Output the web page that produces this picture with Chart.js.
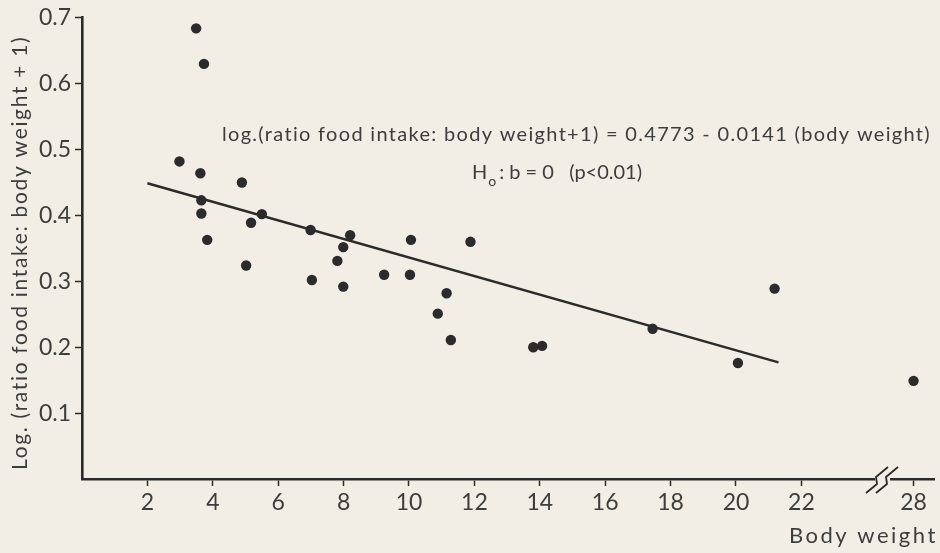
<!DOCTYPE html>
<html>
<head>
<meta charset="utf-8">
<script src="https://cdn.jsdelivr.net/npm/chart.js@4.4.1/dist/chart.umd.min.js"></script>
<style>
  html, body { margin: 0; padding: 0; background: #f2eee5; }
  #wrap { width: 940px; height: 553px; position: relative; }
</style>
</head>
<body>
<div id="wrap"><canvas id="intake-chart"></canvas></div>
<script>
// body weight (g) and log(ratio food intake : body weight + 1)
const bodyWeight = [3.49, 3.73, 2.98, 3.62, 4.89, 3.65, 3.65, 3.83, 5.50, 5.17,
                    5.02, 6.99, 7.03, 8.20, 7.99, 7.81, 7.99, 9.24, 10.03, 10.06,
                    11.88, 11.15, 10.88, 11.28, 13.80, 14.07, 17.45, 20.06, 21.18, 28];
const logRatio = [0.684, 0.630, 0.482, 0.464, 0.450, 0.423, 0.403, 0.363, 0.402, 0.389,
                  0.324, 0.378, 0.302, 0.370, 0.352, 0.331, 0.292, 0.310, 0.310, 0.363,
                  0.360, 0.282, 0.251, 0.211, 0.200, 0.202, 0.228, 0.176, 0.289, 0.149];

// fitted line ends
const fitX = [2, 21.3];
const fitY = [0.449, 0.177];

const xTickLabels = [2, 4, 6, 8, 10, 12, 14, 16, 18, 20, 22, 28];
const yTickLabels = [0.1, 0.2, 0.3, 0.4, 0.5, 0.6, 0.7];

const equationText = 'log.(ratio food intake: body weight+1) = 0.4773 - 0.0141 (body weight)';
const yTitle = 'Log. (ratio food intake: body weight + 1)';
const xTitle = 'Body weight';

const INK = '#2b2b2b';
const TEXT = '#3d3d3d';
const BG = '#f2eee5';
const FONT = 'Lato, "DejaVu Sans", sans-serif';

// axis is broken between 22 and 28
const BREAK_AT = 24;
const BREAK_SHIFT = 2.57;
function mapX(v) { return v > BREAK_AT ? v - BREAK_SHIFT : v; }

const points = bodyWeight.map((w, i) => ({ x: mapX(w), y: logRatio[i] }));
const fitLine = fitX.map((w, i) => ({ x: mapX(w), y: fitY[i] }));

// stretch text to a given width
function fitText(ctx, text, x, y, width, font) {
    ctx.font = font;
    ctx.letterSpacing = '0px';
    const w = ctx.measureText(text).width;
    ctx.letterSpacing = ((width - w) / (text.length - 1)) + 'px';
    ctx.fillText(text, x, y);
    ctx.letterSpacing = '0px';
}

const textPlugin = {
    id: 'texts',
    afterDraw(chart) {
        const ctx = chart.ctx;
        ctx.save();
        ctx.fillStyle = TEXT;
        ctx.textAlign = 'left';
        ctx.textBaseline = 'middle';

        fitText(ctx, equationText, 222, 135, 708, '20px ' + FONT);

        // H0 : b = 0  (p<0.01)
        ctx.font = '20px ' + FONT;
        ctx.fillText('H', 472, 173);
        let hx = 472 + ctx.measureText('H').width + 1;
        ctx.font = '14px ' + FONT;
        ctx.fillText('o', hx, 181);
        hx += ctx.measureText('o').width + 3;
        fitText(ctx, ': b = 0   (p<0.01)', hx, 173, 642 - hx, '20px ' + FONT);

        // x title
        ctx.font = '22px ' + FONT;
        ctx.letterSpacing = '2.5px';
        ctx.fillText(xTitle, 789, 536);
        ctx.letterSpacing = '0px';

        // y title
        ctx.translate(20, 253);
        ctx.rotate(-Math.PI / 2);
        fitText(ctx, yTitle, -217, 0, 433, '21px ' + FONT);
        ctx.restore();

        // break mark on the x axis
        const bx = 883, by = chart.chartArea.bottom;
        ctx.save();
        ctx.fillStyle = BG;
        ctx.fillRect(bx - 8, by - 3, 15, 6);
        ctx.strokeStyle = INK;
        ctx.lineWidth = 1.8;
        ctx.lineJoin = 'round';
        [-5, 5].forEach(dx => {
            ctx.beginPath();
            ctx.moveTo(bx + dx - 12, by + 14);
            ctx.lineTo(bx + dx - 1, by + 5);
            ctx.lineTo(bx + dx - 2, by - 2);
            ctx.lineTo(bx + dx + 10, by - 12);
            ctx.stroke();
        });
        ctx.restore();
    }
};

const ctx = document.getElementById('intake-chart').getContext('2d');
const intakeChart = new Chart(ctx, {
    type: 'scatter',
    data: {
        datasets: [{
            label: 'Shrews',
            data: points,
            pointRadius: 5.2,
            pointHoverRadius: 5.2,
            backgroundColor: INK,
            borderColor: INK,
            borderWidth: 0
        },
        {
            label: 'Regression',
            type: 'line',
            data: fitLine,
            showLine: true,
            borderColor: INK,
            borderWidth: 2.5,
            pointRadius: 0,
            fill: false
        }]
    },
    options: {
        responsive: true,
        maintainAspectRatio: false,
        animation: false,
        layout: {
            padding: { top: 14, right: 0, left: 0, bottom: 0 }
        },
        scales: {
            x: {
                type: 'linear',
                min: 0,
                max: 26.08,
                afterFit: s => { s.height = 74; },
                afterBuildTicks: s => { s.ticks = xTickLabels.map(v => ({ value: mapX(v) })); },
                ticks: {
                    autoSkip: false,
                    maxRotation: 0,
                    padding: 3,
                    color: TEXT,
                    font: { family: FONT, size: 23 },
                    callback: (value, index) => xTickLabels[index]
                },
                grid: {
                    drawOnChartArea: false,
                    drawTicks: true,
                    tickLength: 7,
                    tickColor: INK,
                    tickWidth: 1.5
                },
                border: { color: INK, width: 2.6 }
            },
            y: {
                min: 0,
                max: 0.7,
                afterFit: s => { s.width = 82; },
                afterBuildTicks: s => { s.ticks = yTickLabels.map(v => ({ value: v })); },
                ticks: {
                    padding: 4,
                    color: TEXT,
                    font: { family: FONT, size: 23 },
                    callback: value => value.toFixed(1)
                },
                grid: {
                    drawOnChartArea: false,
                    drawTicks: true,
                    tickLength: 7,
                    tickColor: INK,
                    tickWidth: 1.5
                },
                border: { color: INK, width: 2.6 }
            }
        },
        plugins: {
            legend: { display: false },
            tooltip: { enabled: false }
        }
    },
    plugins: [textPlugin]
});
</script>
</body>
</html>
